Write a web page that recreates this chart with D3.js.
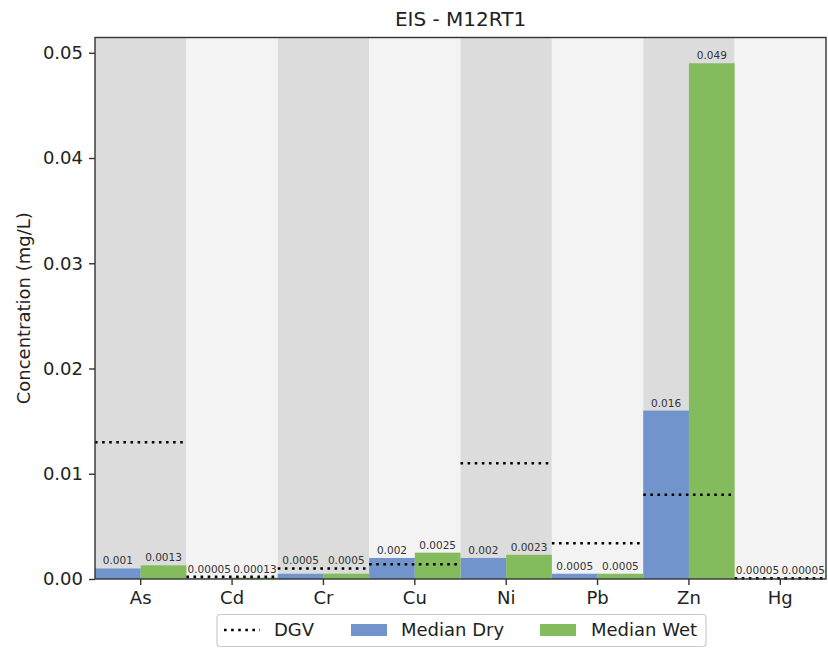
<!DOCTYPE html>
<html>
<head>
<meta charset="utf-8">
<script src="https://cdn.jsdelivr.net/npm/d3@7"></script>
<style>
  html, body { margin: 0; padding: 0; background: #fff; }
  svg text { font-family: "DejaVu Sans", sans-serif; }
</style>
</head>
<body>
<svg id="chart" width="828" height="648"></svg>
<script>
const categories = ["As", "Cd", "Cr", "Cu", "Ni", "Pb", "Zn", "Hg"];
const medianDry  = [0.001, 0.00005, 0.0005, 0.002, 0.002, 0.0005, 0.016, 0.00005];
const medianWet  = [0.0013, 0.00013, 0.0005, 0.0025, 0.0023, 0.0005, 0.049, 0.00005];
const dryLabels  = ["0.001", "0.00005", "0.0005", "0.002", "0.002", "0.0005", "0.016", "0.00005"];
const wetLabels  = ["0.0013", "0.00013", "0.0005", "0.0025", "0.0023", "0.0005", "0.049", "0.00005"];
const dgv        = [0.013, 0.0002, 0.001, 0.0014, 0.011, 0.0034, 0.008, 0.00006];
const yTicks     = [0, 0.01, 0.02, 0.03, 0.04, 0.05];
const titleText  = "EIS - M12RT1";
const yLabelText = "Concentration (mg/L)";
const legendLabels = ["DGV", "Median Dry", "Median Wet"];

const colDry = "#7294cc", colWet = "#84bb5c";
const bgEven = "#dcdcdc", bgOdd = "#f3f3f3";

const svg = d3.select("#chart");
const M = { left: 95, right: 826, top: 37.5, bottom: 579 };

const x = d3.scaleBand().domain(categories).range([M.left, M.right]).paddingInner(0).paddingOuter(0);
const y = d3.scaleLinear().domain([0, 0.05145]).range([M.bottom, M.top]);
const bw = x.bandwidth();

const data = categories.map((c, i) => ({ c, i, dry: medianDry[i], wet: medianWet[i], dl: dryLabels[i], wl: wetLabels[i], g: dgv[i] }));

// label anchor: if the guideline sits just above the bar, put the label above the guideline
function labelY(v, g) {
  const anchor = (g > v && g - v < 0.001) ? g : v;
  return y(anchor) - 4;
}

// background bands
svg.append("g").selectAll("rect").data(data).join("rect")
  .attr("x", d => x(d.c)).attr("y", M.top)
  .attr("width", bw).attr("height", M.bottom - M.top)
  .attr("fill", d => d.i % 2 === 0 ? bgEven : bgOdd);

// bars
const bars = svg.append("g");
bars.selectAll("rect.dry").data(data).join("rect").attr("class", "dry")
  .attr("x", d => x(d.c)).attr("width", bw / 2)
  .attr("y", d => y(d.dry)).attr("height", d => y(0) - y(d.dry))
  .attr("fill", colDry);
bars.selectAll("rect.wet").data(data).join("rect").attr("class", "wet")
  .attr("x", d => x(d.c) + bw / 2).attr("width", bw / 2)
  .attr("y", d => y(d.wet)).attr("height", d => y(0) - y(d.wet))
  .attr("fill", colWet);

// DGV lines
svg.append("g").selectAll("line").data(data).join("line")
  .attr("x1", d => x(d.c)).attr("x2", d => x(d.c) + bw)
  .attr("y1", d => y(d.g)).attr("y2", d => y(d.g))
  .attr("stroke", "#000").attr("stroke-width", 2.6)
  .attr("stroke-dasharray", "2.6 4.5");

// bar labels
const lab = svg.append("g").attr("font-size", 10.5).attr("fill", "#333").attr("text-anchor", "middle");
lab.selectAll("text.dl").data(data).join("text").attr("class", "dl")
  .attr("x", d => x(d.c) + bw / 4).attr("y", d => labelY(d.dry, d.g)).text(d => d.dl);
lab.selectAll("text.wl").data(data).join("text").attr("class", "wl")
  .attr("x", d => x(d.c) + 3 * bw / 4).attr("y", d => labelY(d.wet, d.g)).text(d => d.wl);

// axes frame
svg.append("rect").attr("x", M.left).attr("y", M.top)
  .attr("width", M.right - M.left).attr("height", M.bottom - M.top)
  .attr("fill", "none").attr("stroke", "#333").attr("stroke-width", 1.4);

// y axis
const yAxis = svg.append("g").attr("transform", `translate(${M.left},0)`)
  .call(d3.axisLeft(y).tickValues(yTicks).tickFormat(d3.format(".2f")).tickSize(6).tickPadding(6));
yAxis.select(".domain").remove();
yAxis.selectAll("line").attr("stroke", "#333").attr("stroke-width", 1.4);
yAxis.selectAll("text").attr("font-size", 18).attr("fill", "#222").attr("font-family", "DejaVu Sans");

// x axis
const xAxis = svg.append("g").attr("transform", `translate(0,${M.bottom})`)
  .call(d3.axisBottom(x).tickSize(6).tickPadding(6));
xAxis.select(".domain").remove();
xAxis.selectAll("line").attr("stroke", "#333").attr("stroke-width", 1.4);
xAxis.selectAll("text").attr("font-size", 18).attr("fill", "#222").attr("font-family", "DejaVu Sans");

// title
svg.append("text").attr("x", (M.left + M.right) / 2).attr("y", 26)
  .attr("text-anchor", "middle").attr("font-size", 20).attr("fill", "#222").text(titleText);

// y label
svg.append("text").attr("transform", `translate(30,${(M.top + M.bottom) / 2}) rotate(-90)`)
  .attr("text-anchor", "middle").attr("font-size", 18).attr("fill", "#222").text(yLabelText);

// legend
const lg = svg.append("g");
lg.append("rect").attr("x", 217).attr("y", 614.5).attr("width", 489).attr("height", 32)
  .attr("rx", 3).attr("fill", "#fff").attr("fill-opacity", 0.8)
  .attr("stroke", "#ccc").attr("stroke-width", 1.2);
const ly = 630;
lg.append("line").attr("x1", 224).attr("x2", 260).attr("y1", ly).attr("y2", ly)
  .attr("stroke", "#000").attr("stroke-width", 2.6).attr("stroke-dasharray", "2.6 4.5");
lg.append("rect").attr("x", 351).attr("y", ly - 6).attr("width", 36).attr("height", 12).attr("fill", colDry);
lg.append("rect").attr("x", 540).attr("y", ly - 6).attr("width", 36).attr("height", 12).attr("fill", colWet);
const lxs = [274, 401, 591];
lg.selectAll("text").data(legendLabels).join("text")
  .attr("x", (d, i) => lxs[i]).attr("y", ly).attr("dy", "0.35em")
  .attr("font-size", 18).attr("fill", "#222").text(d => d);
</script>
</body>
</html>
